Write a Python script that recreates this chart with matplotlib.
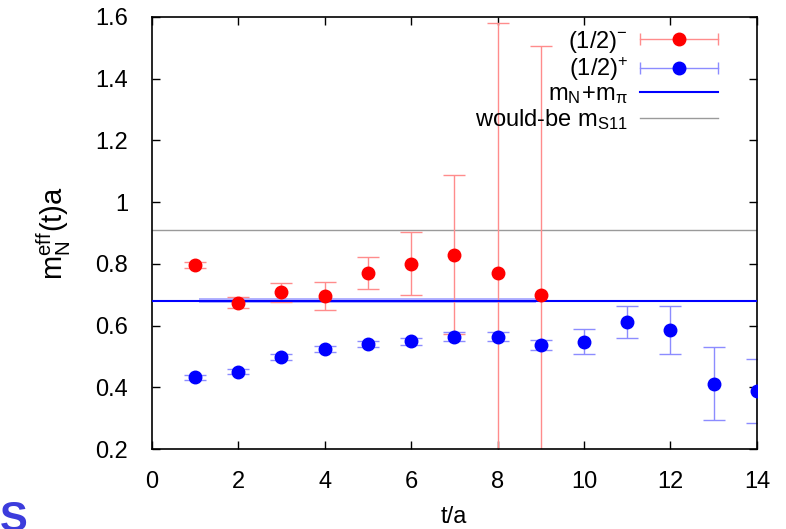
import numpy as np
import matplotlib.pyplot as plt
from matplotlib.lines import Line2D
from matplotlib.legend_handler import HandlerLine2D

plt.rcParams['font.family'] = ['Liberation Sans', 'DejaVu Sans']
plt.rcParams['mathtext.fontset'] = 'custom'
plt.rcParams['mathtext.rm'] = 'Liberation Sans'
plt.rcParams['mathtext.it'] = 'Liberation Sans'
plt.rcParams['mathtext.sf'] = 'Liberation Sans'

# данные: отрицательная чётность (1/2)^-
t_neg = [1, 2, 3, 4, 5, 6, 7, 8, 9]
m_neg = [0.796, 0.674, 0.708, 0.696, 0.770, 0.800, 0.830, 0.770, 0.700]
e_neg = [0.010, 0.018, 0.030, 0.044, 0.051, 0.102, 0.258, 0.810, 0.805]

# положительная чётность (1/2)^+
t_pos = [1, 2, 3, 4, 5, 6, 7, 8, 9, 10, 11, 12, 13, 14]
m_pos = [0.433, 0.450, 0.498, 0.524, 0.541, 0.549, 0.564, 0.564, 0.537,
         0.548, 0.612, 0.587, 0.412, 0.388]
e_pos = [0.008, 0.008, 0.010, 0.010, 0.010, 0.012, 0.015, 0.015, 0.016,
         0.040, 0.051, 0.078, 0.118, 0.104]

# пороги
m_npi = 0.680
m_npi_err = 0.008
band_t = [1.1, 8.9]
m_s11 = 0.909

red = '#ff0000'
red_l = '#ff8c8c'
blue = '#0000ff'
blue_l = '#8c8cff'
fs = 17

fig = plt.figure(figsize=(7.86, 5.29), dpi=100)
ax = fig.add_axes([0.193, 0.151, 0.770, 0.817])

ax.axhline(m_s11, color='#9a9a9a', lw=1.0, zorder=1)
ax.fill_between(band_t, m_npi - m_npi_err, m_npi + m_npi_err,
                color='#7f7fff', alpha=0.6, lw=0, zorder=1)
ax.axhline(m_npi, color=blue, lw=1.5, zorder=4)

ax.errorbar(t_neg, m_neg, yerr=e_neg, fmt='none', ecolor=red_l,
            elinewidth=1.0, capsize=8, capthick=1.0, zorder=2)
ax.plot(t_neg, m_neg, 'o', color=red, ms=9, zorder=5)
ax.errorbar(t_pos, m_pos, yerr=e_pos, fmt='none', ecolor=blue_l,
            elinewidth=1.0, capsize=8, capthick=1.0, zorder=2)
ax.plot(t_pos, m_pos, 'o', color=blue, ms=9, zorder=5)

ax.set_xlim(0, 14)
ax.set_ylim(0.2, 1.6)
ax.set_xticks(np.arange(0, 15, 2))
ax.set_yticks(np.arange(0.2, 1.61, 0.2))
ax.set_yticklabels(['0.2', '0.4', '0.6', '0.8', '1', '1.2', '1.4', '1.6'])
ax.tick_params(direction='in', length=6, width=1, labelsize=fs,
               top=True, right=True)
ax.tick_params(axis='x', pad=16)
ax.tick_params(axis='y', pad=17)
for s in ax.spines.values():
    s.set_linewidth(1.2)

ax.set_xlabel('t/a', fontsize=fs, labelpad=9)
ax.set_ylabel(r'$\mathrm{m_N^{eff}(t)a}$', fontsize=21, labelpad=16)

# легенда в стиле gnuplot: подпись слева, образец справа
cap_r = Line2D([], [], color=red_l, lw=1.0, marker='|', ms=8, mew=1.0)
dot_r = Line2D([], [], color=red, ls='none', marker='o', ms=9)
cap_b = Line2D([], [], color=blue_l, lw=1.0, marker='|', ms=8, mew=1.0)
dot_b = Line2D([], [], color=blue, ls='none', marker='o', ms=9)
h_npi = Line2D([], [], color=blue, lw=1.5)
h_s11 = Line2D([], [], color='#9a9a9a', lw=1.0)

hmap = {cap_r: HandlerLine2D(numpoints=2, marker_pad=0),
        cap_b: HandlerLine2D(numpoints=2, marker_pad=0),
        dot_r: HandlerLine2D(numpoints=1),
        dot_b: HandlerLine2D(numpoints=1)}
labels = [r'$\mathrm{(1/2)^{-}}$', r'$\mathrm{(1/2)^{+}}$',
          r'$\mathrm{m_N\!+\!m_\pi}$', r'would-be $\mathrm{m_{S11}}$']
ax.legend([(cap_r, dot_r), (cap_b, dot_b), h_npi, h_s11], labels,
          handler_map=hmap, loc='upper right', bbox_to_anchor=(0.955, 1.0),
          frameon=False, markerfirst=False, fontsize=fs, handlelength=3.3,
          handletextpad=0.5, labelspacing=0.02, borderaxespad=0.1)

fig.text(0.0, -0.02, 'S', color='#3c3cdc', fontsize=30, fontweight='bold',
         ha='left', va='bottom')

fig.savefig('out.png', dpi=100)
